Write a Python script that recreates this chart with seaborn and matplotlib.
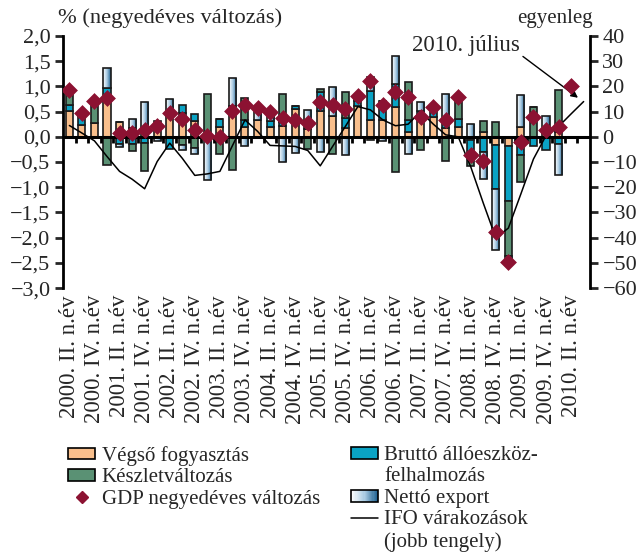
import numpy as np
import matplotlib
matplotlib.use("Agg")
import matplotlib.pyplot as plt
import seaborn as sns
from matplotlib.patches import Rectangle
from matplotlib.lines import Line2D
from matplotlib.colors import LinearSegmentedColormap
from matplotlib.legend_handler import HandlerBase
from matplotlib.ticker import FuncFormatter, MultipleLocator

# category labels (every second quarter, 2000 Q2 .. 2010 Q2)
tick_labels = ["2000. II. n.év", "2000. IV. n.év", "2001. II. n.év", "2001. IV. n.év",
               "2002. II. n.év", "2002. IV. n.év", "2003. II. n.év", "2003. IV. n.év",
               "2004. II. n.év", "2004. IV. n.év", "2005. II. n.év", "2005. IV. n.év",
               "2006. II. n.év", "2006. IV. n.év", "2007. II. n.év", "2007. IV. n.év",
               "2008. II. n.év", "2008. IV. n.év", "2009. II. n.év", "2009. IV. n.év",
               "2010. II. n.év"]

# contributions to quarterly GDP change (%), 2000 Q2 .. 2010 Q1
vegso_fogyasztas = [0.51, 0.24, 0.28, 0.77, 0.29, 0.17, 0.10, 0.22, 0.42, 0.47,
                    0.32, 0.00, 0.20, 0.51, 0.20, 0.34, 0.20, 0.22, 0.55, 0.15,
                    0.51, 0.42, 0.17, 0.61, 0.34, 0.34, 0.60, 0.10, 0.42, 0.39,
                    0.17, 0.20, -0.06, 0.09, -0.16, -0.19, 0.19, 0.00, 0.07, 0.09]
brutto_allo = [0.12, 0.18, 0.00, 0.20, -0.15, -0.15, -0.13, 0.00, -0.25, 0.16,
               0.13, 0.00, 0.15, 0.11, 0.13, 0.00, 0.11, 0.08, 0.07, 0.12,
               0.38, 0.00, 0.21, 0.11, 0.57, 0.38, 0.45, 0.23, 0.10, 0.18,
               0.17, 0.15, -0.30, -0.30, -0.88, -1.09, -0.36, -0.19, -0.27, -0.15]
keszletvaltozas = [0.24, 0.00, 0.40, -0.55, 0.00, -0.14, -0.55, 0.10, 0.00, -0.16,
                   -0.22, 0.85, -0.34, -0.65, 0.44, 0.00, 0.00, 0.55, 0.00, -0.25,
                   0.06, -0.34, 0.51, 0.08, -0.06, 0.00, -0.70, 0.76, -0.26, 0.00,
                   -0.47, 0.43, -0.21, 0.23, 0.29, -1.09, -0.54, 0.60, 0.00, 0.83]
netto_export = [0.00, 0.05, 0.00, 0.40, -0.05, 0.19, 0.60, -0.08, 0.33, -0.10,
                -0.12, -0.85, 0.00, 0.55, -0.18, 0.25, 0.17, -0.50, -0.32, 0.26,
                -0.30, 0.56, -0.37, 0.00, 0.28, -0.09, 0.56, -0.34, 0.18, 0.06,
                0.51, 0.00, 0.25, -0.54, -1.21, -0.07, 0.64, 0.00, 0.34, -0.60]

# GDP quarterly change (%), 2000 Q2 .. 2010 Q2
gdp_valtozas = [0.92, 0.48, 0.72, 0.77, 0.07, 0.07, 0.14, 0.22, 0.48, 0.36,
                0.13, 0.02, 0.00, 0.52, 0.63, 0.58, 0.50, 0.38, 0.34, 0.27,
                0.70, 0.63, 0.56, 0.81, 1.10, 0.63, 0.88, 0.79, 0.39, 0.60,
                0.34, 0.79, -0.36, -0.47, -1.89, -2.49, -0.11, 0.40, 0.14, 0.20,
                1.01]

# IFO expectations (right axis), 2000 Q2 .. 2010 July
ifo = [4.5, 1.5, -1.6, -7.8, -13.7, -16.8, -20.6, -9.8, -2.5, -8.5,
       -15.3, -14.7, -13.7, -3.5, 6.7, 2.2, -3.4, -3.6, -3.8, -5.4,
       -11.5, -3.7, 4.1, 12.0, 10.7, 6.7, 4.4, 5.0, 10.0, 5.1,
       0.8, 0.0, -11.9, -26.3, -40.1, -36.2, -22.6, -8.8, 0.5, 4.1,
       9.1, 14.0]

c_vegso = "#f9bf8c"
c_brutto = "#0aa3c4"
c_keszlet = "#5a9174"
c_gdp = "#8c1232"
grad_cmap = LinearSegmentedColormap.from_list("netto", ["#ffffff", "#a9cbe3", "#1b5e8e"])

sns.set_style("white")
plt.rcParams["font.family"] = ["Liberation Serif", "DejaVu Serif"]
fs_tick = 16
fs_xlab = 16.5
fs_leg = 15

fig = plt.figure(figsize=(6.44, 5.54), dpi=100)
ax = fig.add_axes([0.098, 0.480, 0.818, 0.455])
ax2 = ax.twinx()
ax3 = fig.add_axes(ax.get_position(), sharex=ax, sharey=ax)
ax.set_zorder(1)
ax2.set_zorder(2)
ax3.set_zorder(3)
ax2.patch.set_visible(False)
ax3.patch.set_visible(False)
ax3.axis("off")

# stacked bars, positives and negatives stacked separately
n = len(vegso_fogyasztas)
x = np.arange(n)
w = 0.56
pos = np.zeros(n)
neg = np.zeros(n)
for vals, color in [(vegso_fogyasztas, c_vegso), (brutto_allo, c_brutto),
                    (keszletvaltozas, c_keszlet), (netto_export, None)]:
    vals = np.array(vals)
    bottom = np.where(vals >= 0, pos, neg)
    if color is not None:
        ax.bar(x, vals, bottom=bottom, width=w, color=color,
               edgecolor="#1a1a1a", linewidth=1.2, zorder=2)
    else:
        bars = ax.bar(x, vals, bottom=bottom, width=w, facecolor="none",
                      edgecolor="#1a1a1a", linewidth=1.2, zorder=3)
        grad = np.linspace(0, 1, 64).reshape(1, -1)
        for xi, b, v, rect in zip(x, bottom, vals, bars):
            if v == 0:
                continue
            im = ax.imshow(grad, cmap=grad_cmap, aspect="auto", zorder=2,
                           extent=(xi - w / 2, xi + w / 2, min(b, b + v), max(b, b + v)))
            im.set_clip_path(rect)
    pos += np.clip(vals, 0, None)
    neg += np.clip(vals, None, 0)

ax.axhline(0, color="black", lw=2.2, zorder=4)
ax.vlines(np.arange(0.5, 41, 1), -0.13, 0, color="black", lw=2, zorder=4)

ax.set_xlim(-0.5, 41.5)
ax.set_ylim(-3, 2)
ax.yaxis.set_major_locator(MultipleLocator(0.5))
ax.yaxis.set_major_formatter(FuncFormatter(
    lambda v, p: f"{v:.1f}".replace(".", ",").replace("-", "\u2212")))
ax.set_xticks(np.arange(0, 41, 2))
ax.set_xticklabels(tick_labels, rotation=90)
ax.tick_params(axis="x", length=0, pad=5, labelsize=fs_xlab)
ax.tick_params(axis="y", direction="out", length=6, width=2, labelsize=fs_tick, pad=3)

# IFO line on the right axis
sns.lineplot(x=np.arange(len(ifo)), y=ifo, ax=ax2, color="black", lw=1.1,
             legend=False, zorder=5)
ax2.set_ylim(-60, 40)
ax2.yaxis.set_major_locator(MultipleLocator(10))
ax2.yaxis.set_major_formatter(FuncFormatter(lambda v, p: f"{v:.0f}".replace("-", "\u2212")))
ax2.tick_params(axis="y", direction="out", length=6, width=2, labelsize=fs_tick, pad=3)
ax2.set_ylabel("")

# GDP diamonds on top
sns.scatterplot(x=np.arange(len(gdp_valtozas)), y=gdp_valtozas, ax=ax3, marker="D",
                s=65, color=c_gdp, edgecolor=c_gdp, linewidth=0.5, legend=False, zorder=6)
ax3.set_xlim(-0.5, 41.5)
ax3.set_ylim(-3, 2)

for a in (ax, ax2):
    for s in a.spines.values():
        s.set_visible(False)
ax.spines["left"].set_visible(True)
ax.spines["left"].set_linewidth(2)
ax.spines["left"].set_color("black")
ax2.spines["right"].set_visible(True)
ax2.spines["right"].set_linewidth(2)
ax2.spines["right"].set_color("black")

ax2.annotate("2010. július", xy=(40.55, 15.5), xytext=(31.6, 36.2),
             ha="center", va="center", fontsize=16.5,
             arrowprops=dict(arrowstyle="-|>", color="black", lw=1, relpos=(1, 0.1),
                             shrinkA=0, shrinkB=0, mutation_scale=10))

fig.text(0.09, 0.967, "% (negyedéves változás)", fontsize=16.2, ha="left", va="center")
fig.text(0.921, 0.967, "egyenleg", fontsize=15, ha="right", va="center")


class GradHandler(HandlerBase):
    def create_artists(self, legend, orig_handle, xd, yd, width, height, fontsize, trans):
        arts = []
        k = 24
        for i in range(k):
            arts.append(Rectangle((-xd + width * i / k, -yd), width / k + 0.3, height,
                                  facecolor=grad_cmap(i / (k - 1)), edgecolor="none",
                                  transform=trans))
        arts.append(Rectangle((-xd, -yd), width, height, facecolor="none",
                              edgecolor="black", lw=1.2, transform=trans))
        return arts


grad_proxy = Rectangle((0, 0), 1, 1)
blank = Line2D([], [], color="none")

h_left = [Rectangle((0, 0), 1, 1, facecolor=c_vegso, edgecolor="black", lw=1.2),
          Rectangle((0, 0), 1, 1, facecolor=c_keszlet, edgecolor="black", lw=1.2),
          Line2D([], [], ls="none", marker="D", markersize=6, color=c_gdp)]
l_left = ["Végső fogyasztás", "Készletváltozás", "GDP negyedéves változás"]
h_right = [Rectangle((0, 0), 1, 1, facecolor=c_brutto, edgecolor="black", lw=1.2),
           blank, grad_proxy, Line2D([], [], color="black", lw=1.1), blank]
l_right = ["Bruttó állóeszköz-", "felhalmozás", "Nettó export", "IFO várakozások",
           "(jobb tengely)"]

leg_kw = dict(frameon=False, fontsize=fs_leg, borderpad=0, borderaxespad=0,
              handlelength=1.3, handleheight=0.5, handletextpad=0.3, labelspacing=0.12,
              loc="upper left")
fig.legend(h_left, l_left, bbox_to_anchor=(0.106, 0.195), **leg_kw)
fig.legend(h_right, l_right, bbox_to_anchor=(0.545, 0.195),
           handler_map={grad_proxy: GradHandler()}, **leg_kw)

fig.savefig("out.png", dpi=100)
